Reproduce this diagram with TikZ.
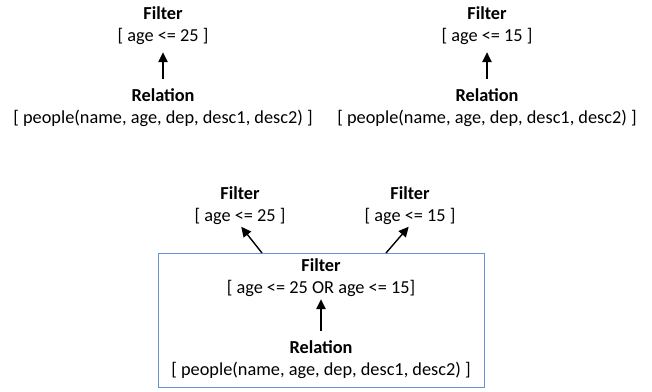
\documentclass[tikz,border=0pt]{standalone}
\usepackage{fontspec}
\setmainfont{Carlito}
\usetikzlibrary{arrows.meta}

\definecolor{boxblue}{RGB}{100,148,208}

\tikzstyle{lbl} = [align=center, inner sep=0pt, font=\fontsize{18.3}{22}\selectfont]
\tikzstyle{arr} = [-{Triangle[length=10pt, width=9.5pt]}, line width=1.4pt]

\begin{document}
\begin{tikzpicture}[x=1pt, y=-1pt]
    \useasboundingbox (0,0) rectangle (652,391);
    % Separate plans
    \node[lbl] (f1) at (163,26) {\textbf{Filter}\\{[} age <= 25 ]};
    \node[lbl] (r1) at (163,108) {\textbf{Relation}\\{[} people(name, age, dep, desc1, desc2) ]};
    \node[lbl] (f2) at (487,26) {\textbf{Filter}\\{[} age <= 15 ]};
    \node[lbl] (r2) at (487,108) {\textbf{Relation}\\{[} people(name, age, dep, desc1, desc2) ]};
    % Shared plan
    \node[draw=boxblue, line width=1pt, minimum width=326pt, minimum height=134pt] (box) at (321,320) {};
    \node[lbl] (fo) at (321,278) {\textbf{Filter}\\{[} age <= 25 OR age <= 15]};
    \node[lbl] (ro) at (321,360) {\textbf{Relation}\\{[} people(name, age, dep, desc1, desc2) ]};
    \node[lbl] (fa) at (240,206) {\textbf{Filter}\\{[} age <= 25 ]};
    \node[lbl] (fb) at (410,206) {\textbf{Filter}\\{[} age <= 15 ]};
    \coordinate (ta) at (262,253);
    \coordinate (tb) at (386,253);
    % Edges
    \draw[arr, shorten <=10pt, shorten >=7pt] (r1) -- (f1);
    \draw[arr, shorten <=10pt, shorten >=7pt] (r2) -- (f2);
    \draw[arr, shorten <=10pt, shorten >=2pt] (ro) -- (fo);
    \draw[arr, shorten >=2pt] (ta) -- (fa.south);
    \draw[arr, shorten >=2pt] (tb) -- (fb.south);
\end{tikzpicture}
\end{document}
